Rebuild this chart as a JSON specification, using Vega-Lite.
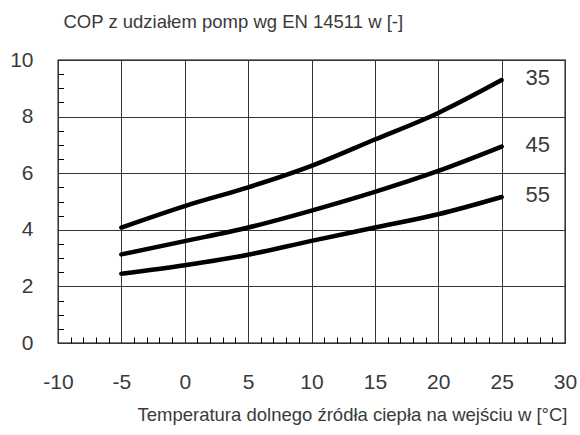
{
  "$schema": "https://vega.github.io/schema/vega-lite/v6.json",
  "width": 507,
  "height": 283,
  "autosize": "none",
  "padding": {"left": 58, "top": 60, "right": 15, "bottom": 92},
  "background": "white",
  "config": {
    "font": "Liberation Sans",
    "view": {"stroke": "#000", "strokeWidth": 1.3}
  },
  "data": {
    "values": [
      {"t": -5, "cop": 4.08, "s": "35"},
      {"t": 0, "cop": 4.84, "s": "35"},
      {"t": 5, "cop": 5.5, "s": "35"},
      {"t": 10, "cop": 6.26, "s": "35"},
      {"t": 15, "cop": 7.19, "s": "35"},
      {"t": 20, "cop": 8.13, "s": "35"},
      {"t": 25, "cop": 9.29, "s": "35"},
      {"t": -5, "cop": 3.13, "s": "45"},
      {"t": 0, "cop": 3.6, "s": "45"},
      {"t": 5, "cop": 4.08, "s": "45"},
      {"t": 10, "cop": 4.68, "s": "45"},
      {"t": 15, "cop": 5.34, "s": "45"},
      {"t": 20, "cop": 6.08, "s": "45"},
      {"t": 25, "cop": 6.94, "s": "45"},
      {"t": -5, "cop": 2.45, "s": "55"},
      {"t": 0, "cop": 2.75, "s": "55"},
      {"t": 5, "cop": 3.12, "s": "55"},
      {"t": 10, "cop": 3.61, "s": "55"},
      {"t": 15, "cop": 4.08, "s": "55"},
      {"t": 20, "cop": 4.55, "s": "55"},
      {"t": 25, "cop": 5.16, "s": "55"}
    ]
  },
  "resolve": {"axis": {"x": "independent", "y": "independent"}},
  "layer": [
    {
      "mark": {"type": "line", "interpolate": "monotone", "strokeWidth": 4.5, "strokeCap": "round", "color": "#000"},
      "encoding": {
        "x": {
          "field": "t", "type": "quantitative",
          "scale": {"domain": [-10, 30], "nice": false, "zero": false},
          "axis": {
            "orient": "bottom",
            "values": [-10, -5, 0, 5, 10, 15, 20, 25, 30],
            "labelExpr": "datum.value < 0 ? '-' + abs(datum.value) : datum.label",
            "labelFontSize": 21, "labelColor": "#3a3a3a",
            "labelPadding": 28, "labelFlush": false, "labelOverlap": false,
            "domain": false, "ticks": false,
            "grid": true, "gridColor": "#333", "gridWidth": 1,
            "title": "Temperatura dolnego źródła ciepła na wejściu w [°C]",
            "titleFontSize": 18.5, "titleFontWeight": "normal", "titleColor": "#3a3a3a",
            "titleAlign": "right", "titleAnchor": "end", "titleBaseline": "alphabetic",
            "titleX": 509, "titleY": 77
          }
        },
        "y": {
          "field": "cop", "type": "quantitative",
          "scale": {"domain": [0, 10], "nice": false},
          "axis": {
            "orient": "left",
            "values": [0, 2, 4, 6, 8, 10],
            "labelFontSize": 21, "labelColor": "#3a3a3a",
            "labelPadding": 25, "labelFlush": false, "labelOverlap": false,
            "domain": false, "ticks": false,
            "grid": true, "gridColor": "#333", "gridWidth": 1,
            "title": "COP z udziałem pomp wg EN 14511 w [-]",
            "titleFontSize": 18.5, "titleFontWeight": "normal", "titleColor": "#3a3a3a",
            "titleAngle": 0, "titleAlign": "left", "titleBaseline": "alphabetic",
            "titleX": 5, "titleY": -33
          }
        },
        "detail": {"field": "s", "type": "nominal"}
      }
    },
    {
      "mark": {"type": "point", "opacity": 0},
      "encoding": {
        "x": {
          "field": "t", "type": "quantitative",
          "axis": {
            "orient": "bottom",
            "values": [-9,-8,-7,-6,-4,-3,-2,-1,1,2,3,4,6,7,8,9,11,12,13,14,16,17,18,19,21,22,23,24,26,27,28,29],
            "labels": false, "domain": false, "grid": false, "title": null,
            "tickSize": -6, "tickColor": "#000", "tickWidth": 1
          }
        },
        "y": {
          "field": "cop", "type": "quantitative",
          "axis": {
            "orient": "left",
            "values": [0.5,1,1.5,2.5,3,3.5,4.5,5,5.5,6.5,7,7.5,8.5,9,9.5],
            "labels": false, "domain": false, "grid": false, "title": null,
            "tickSize": -5.5, "tickColor": "#000", "tickWidth": 1
          }
        }
      }
    },
    {
      "transform": [{"filter": "datum.t === 25"}],
      "mark": {"type": "text", "dx": 36, "dy": -2, "fontSize": 22, "color": "#3a3a3a", "align": "center", "baseline": "middle"},
      "encoding": {
        "x": {"field": "t", "type": "quantitative", "axis": null},
        "y": {"field": "cop", "type": "quantitative", "axis": null},
        "text": {"field": "s", "type": "nominal"}
      }
    }
  ]
}
